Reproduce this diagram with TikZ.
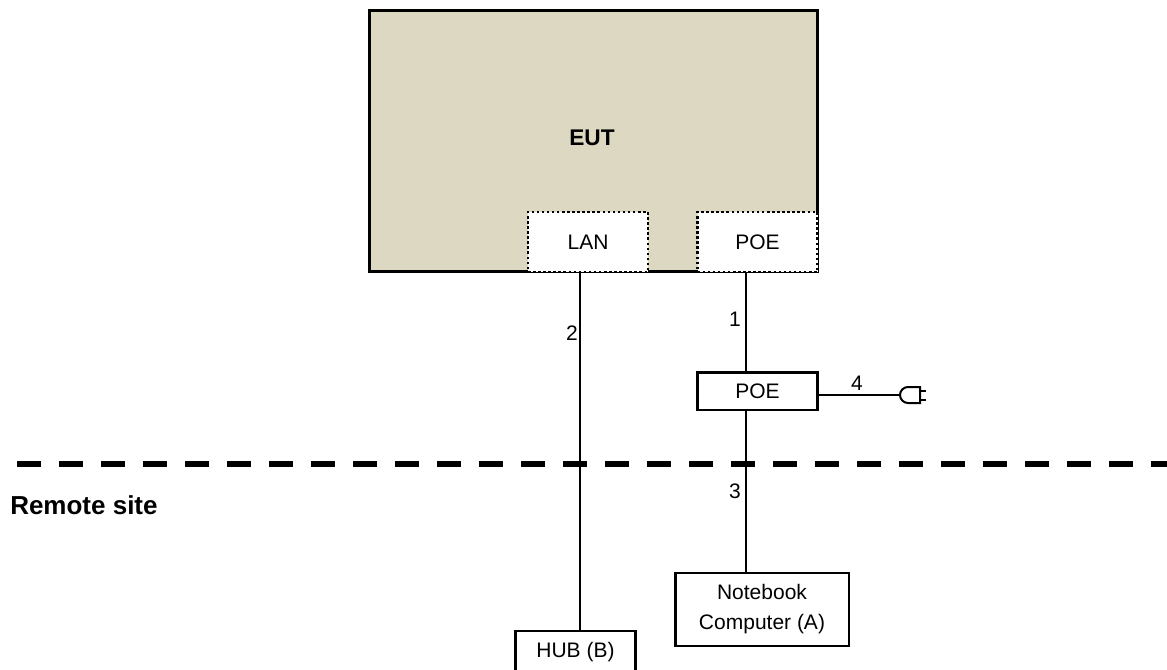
\documentclass[tikz,border=0pt]{standalone}
\usepackage{fontspec}
\setmainfont{Liberation Sans}
\usepackage{tikz}
\usetikzlibrary{positioning}

\begin{document}
\begin{tikzpicture}[x=0.75pt,y=-0.75pt]
      \useasboundingbox (0,0) rectangle (1167,669);
      \tikzstyle{eutnode} = [draw=black, line width=2pt, fill=eutfill, rectangle, inner sep = 0pt, minimum width=336pt, minimum height=196pt]
      \tikzstyle{portnode} = [draw=black, line width=1.9pt, fill=white, rectangle, inner sep = 0pt, dash pattern=on 1.9pt off 1.9pt, minimum width=90pt, minimum height=45pt, font=\txtfont]
      \tikzstyle{nnode} = [draw=black, line width=1.75pt, fill=white, rectangle, inner sep = 0pt, align=center, font=\txtfont]
      \tikzstyle{lab} = [inner sep = 0pt, font=\txtfont]
      \tikzstyle{conn} = [draw=black, line width=1.3pt]
      \definecolor{eutfill}{RGB}{221,216,193}
      \newcommand{\txtfont}{\fontsize{15.75}{22.5}\selectfont}

      \node[eutnode] (eut) at (593.5,141) {};
      \node[inner sep=0pt, font=\fontsize{17}{20}\selectfont\bfseries] (eutlab) at (592,138) {EUT};
      \node[portnode] (lan) at (588,242) {LAN};
      \node[portnode] (poe) at (757.5,242) {POE};

      \node[nnode, minimum width=90pt, minimum height=28pt] (poebox) at (757.5,391) {POE};
      \node[nnode, minimum width=130pt, minimum height=54.5pt] (nb) at (762,609.5) {Notebook\\Computer (A)};
      \node[nnode, minimum width=90pt, minimum height=32pt] (hub) at (575.5,652) {HUB (B)};

      \coordinate (lanout) at (580,272);
      \coordinate (lanin) at (580,631);
      \coordinate (poeout) at (746,272);
      \coordinate (poein) at (746,372);
      \coordinate (poedown) at (746,410);
      \coordinate (nbin) at (746,573);
      \coordinate (poeright) at (818,395);
      \coordinate (plug) at (900,395);
      \coordinate (sitel) at (17,464);
      \coordinate (siter) at (1167,464);

      \path[conn]
      (lanout) edge node {} (lanin)
      (poeout) edge node {} (poein)
      (poedown) edge node {} (nbin)
      (poeright) edge node {} (plug)
      ;
      \draw[line width=4.5pt, dash pattern=on 18pt off 13.5pt] (sitel) -- (siter);

      % plug
      \draw[line width=1.5pt] (920,387) -- (908,387) arc (90:270:6pt) -- (920,403) -- cycle;
      \draw[line width=1.5pt] (920,390.5) -- (926,390.5) (920,399.5) -- (926,399.5);

      \node[lab] (n2) at (572,333) {2};
      \node[lab] (n1) at (735,319) {1};
      \node[lab] (n3) at (735,491) {3};
      \node[lab] (n4) at (857,383) {4};
      \node[inner sep=0pt, anchor=west, font=\fontsize{19.5}{22}\selectfont\bfseries] (site) at (10,505) {Remote site};
\end{tikzpicture}
\end{document}
